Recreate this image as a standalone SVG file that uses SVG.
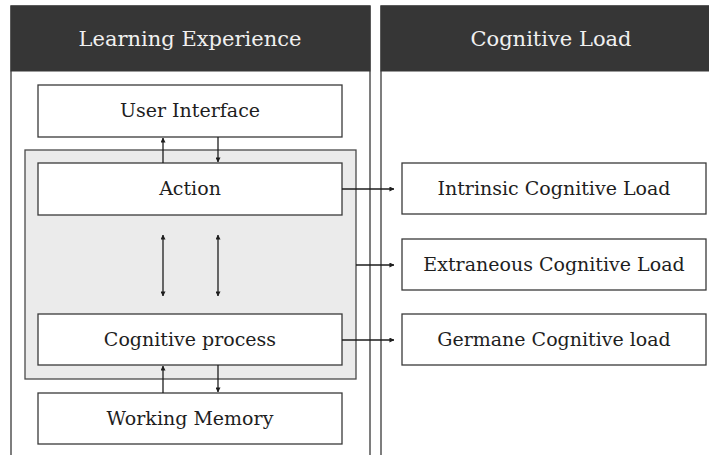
<svg xmlns="http://www.w3.org/2000/svg" width="709" height="455" viewBox="0 0 709 455">
  <style>
    .panel { fill: #ffffff; stroke: #3a3a3a; stroke-width: 1.3; }
    .head { fill: #363636; stroke: #363636; stroke-width: 1; }
    .headtxt { font-family: "DejaVu Serif", "Liberation Serif", serif; font-size: 21px; fill: #f0f0f0; text-anchor: middle; }
    .box { fill: #ffffff; stroke: #3a3a3a; stroke-width: 1.3; }
    .group { fill: #ebebeb; stroke: #4a4a4a; stroke-width: 1.3; }
    .txt { font-family: "DejaVu Serif", "Liberation Serif", serif; font-size: 19px; fill: #1e1e1e; text-anchor: middle; }
    .link { fill: none; stroke: #1e1e1e; stroke-width: 1.3; }
  </style>
  <defs>
    <marker id="arrow" viewBox="0 0 6 6" refX="5.5" refY="3" markerWidth="5" markerHeight="5" markerUnits="userSpaceOnUse" orient="auto-start-reverse">
      <path d="M0,0 L6,3 L0,6 Z" fill="#1e1e1e"/>
    </marker>
  </defs>
  <rect width="709" height="455" fill="#ffffff"/>

  <!-- Panels -->
  <g id="panel-learning">
    <rect class="panel" x="11" y="6" width="359" height="460"/>
    <rect class="head" x="11" y="6" width="359" height="65"/>
    <text class="headtxt" x="190" y="46">Learning Experience</text>
  </g>
  <g id="panel-load">
    <rect class="panel" x="381" y="6" width="340" height="460"/>
    <rect class="head" x="381" y="6" width="340" height="65"/>
    <text class="headtxt" x="551" y="46">Cognitive Load</text>
  </g>

  <!-- Gray grouping of action and cognitive process -->
  <g id="processing-group">
    <rect class="group" x="25" y="150" width="331" height="229"/>
  </g>

  <g id="user-interface">
    <rect class="box" x="38" y="85" width="304" height="52"/>
    <text class="txt" x="190" y="117">User Interface</text>
  </g>
  <g id="action">
    <rect class="box" x="38" y="163" width="304" height="52"/>
    <text class="txt" x="190" y="195">Action</text>
  </g>
  <g id="cognitive-process">
    <rect class="box" x="38" y="314" width="304" height="51"/>
    <text class="txt" x="190" y="346">Cognitive process</text>
  </g>
  <g id="working-memory">
    <rect class="box" x="38" y="393" width="304" height="51"/>
    <text class="txt" x="190" y="425">Working Memory</text>
  </g>

  <g id="intrinsic">
    <rect class="box" x="402" y="163" width="304" height="51"/>
    <text class="txt" x="554" y="195">Intrinsic Cognitive Load</text>
  </g>
  <g id="extraneous">
    <rect class="box" x="402" y="239" width="304" height="51"/>
    <text class="txt" x="554" y="271">Extraneous Cognitive Load</text>
  </g>
  <g id="germane">
    <rect class="box" x="402" y="314" width="304" height="51"/>
    <text class="txt" x="554" y="346">Germane Cognitive load</text>
  </g>

  <!-- Connectors -->
  <g id="connectors">
    <line class="link" x1="163" y1="163" x2="163" y2="138" marker-end="url(#arrow)"/>
    <line class="link" x1="218" y1="137" x2="218" y2="162" marker-end="url(#arrow)"/>
    <line class="link" x1="163" y1="235" x2="163" y2="296" marker-start="url(#arrow)" marker-end="url(#arrow)"/>
    <line class="link" x1="218" y1="235" x2="218" y2="296" marker-start="url(#arrow)" marker-end="url(#arrow)"/>
    <line class="link" x1="163" y1="393" x2="163" y2="366" marker-end="url(#arrow)"/>
    <line class="link" x1="218" y1="365" x2="218" y2="392" marker-end="url(#arrow)"/>
    <line class="link" x1="342" y1="189" x2="394" y2="189" marker-end="url(#arrow)"/>
    <line class="link" x1="356" y1="265" x2="394" y2="265" marker-end="url(#arrow)"/>
    <line class="link" x1="342" y1="340" x2="394" y2="340" marker-end="url(#arrow)"/>
  </g>
</svg>
